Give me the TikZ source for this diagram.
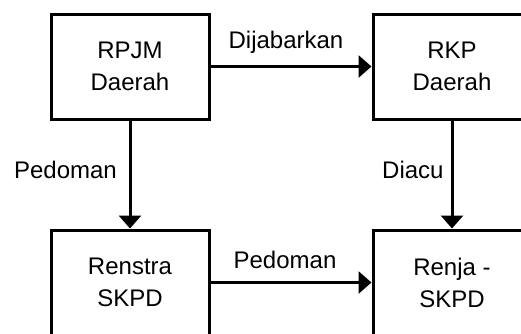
\documentclass[tikz,border=0pt]{standalone}
\usepackage{fontspec}
\setmainfont{Liberation Sans}
\usetikzlibrary{arrows.meta}
\begin{document}
\begin{tikzpicture}[x=1pt,y=-1pt,
  box/.style={draw=black,line width=3pt,rectangle,minimum width=158pt,minimum height=105pt,
    inner sep=0pt,align=center,font=\fontsize{24}{32}\selectfont,yshift=-2pt},
  lab/.style={inner sep=0pt,font=\fontsize{24}{28}\selectfont},
  conn/.style={line width=3pt,-{Triangle[length=13pt,width=22pt]}}]
\useasboundingbox (0,0) rectangle (521,333);
\clip (0,0) rectangle (521,333);
\fill[white] (0,0) rectangle (521,333);
\node[box] (rpjm) at (130,64.5) {RPJM\\Daerah};
\node[box] (rkp) at (452,64.5) {RKP\\Daerah};
\node[box] (renstra) at (130,280.5) {Renstra\\SKPD};
\node[box] (renja) at (452,280.5) {Renja -\\SKPD};
\draw[conn] (rpjm) -- (rkp);
\draw[conn] (rpjm) -- (renstra);
\draw[conn] (rkp) -- (renja);
\draw[conn] (renstra) -- (renja);
\node[lab,anchor=base] (l1) at (286,48) {Dijabarkan};
\node[lab,anchor=base east] (l2) at (117,178) {Pedoman};
\node[lab,anchor=base west] (l3) at (382,178) {Diacu};
\node[lab,anchor=base] (l4) at (285,268) {Pedoman};
\end{tikzpicture}
\end{document}
